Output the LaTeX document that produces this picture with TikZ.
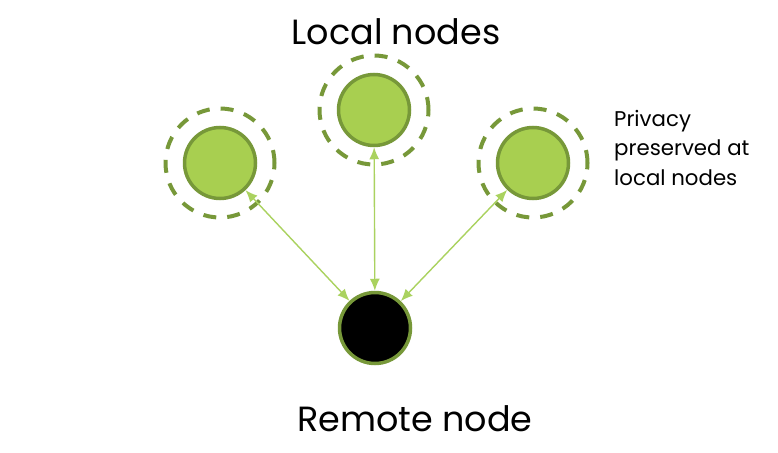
\documentclass[tikz,border=0pt]{standalone}
\usepackage{fontspec}
\setmainfont{Poppins}
\usepackage{tikz}
\usetikzlibrary{positioning,arrows.meta,calc}
\definecolor{leaffill}{RGB}{168,207,80}
\definecolor{leafedge}{RGB}{119,152,57}
\definecolor{linkgreen}{RGB}{170,210,95}

\begin{document}
\begin{tikzpicture}[
  x=1pt, y=-1pt,
  peer/.style={circle, draw=leafedge, fill=leaffill, line width=3.5pt,
               minimum size=71pt, inner sep=0pt},
  server/.style={peer, fill=black},
  shield/.style={circle, draw=leafedge, line width=4pt, minimum size=109pt,
                 inner sep=0pt, dash pattern=on 13pt off 11pt},
  link/.style={{Latex[length=12pt,width=10pt]}-{Latex[length=12pt,width=10pt]},
                line width=1.4pt, draw=linkgreen},
  title/.style={font=\fontsize{35}{40}\selectfont, anchor=base},
  note/.style={font=\fontsize{21.3}{29.5}\selectfont, align=left, anchor=north west,
               inner sep=0pt},
]
\useasboundingbox (0,0) rectangle (778,452);
\node[peer] (localL) at (220,163) {};
\node[peer] (localM) at (374,110) {};
\node[peer] (localR) at (533,163) {};
\node[server] (remote) at (375,328) {};

\node[shield] (ringL) at (localL) {};
\node[shield] (ringM) at (localM) {};
\node[shield] (ringR) at (localR) {};

\node[title] (toplbl) at (396,45) {Local nodes};
\node[title] (botlbl) at (415,431) {Remote node};
\node[note] (privacy) at (614,110) {Privacy\\preserved at\\local nodes};

\draw[link] (remote) -- (localL);
\draw[link] (remote) -- (localM);
\draw[link] (remote) -- (localR);
\end{tikzpicture}
\end{document}
